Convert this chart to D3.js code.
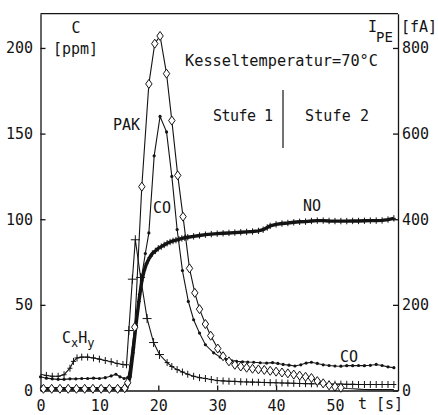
<!DOCTYPE html>
<html>
<head>
<meta charset="utf-8">
<script src="https://cdn.jsdelivr.net/npm/d3@7"></script>
<style>
  body { margin: 0; background: #fff; }
  svg { display: block; }
  text { font-family: "DejaVu Sans Mono", monospace; fill: #141414; }
</style>
</head>
<body>
<svg id="chart" width="438" height="415"></svg>
<script>
// Time axis ticks [s] and concentration / current ticks
const xTicks = [0, 10, 20, 30, 40, 50];
const yTicksLeft = [0, 50, 100, 150, 200];     // C [ppm]
const yTicksRight = [0, 200, 400, 600, 800];   // I_PE [fA]

// PAK (photoelectric current, drawn on the same grid as ppm/4)
const pakT = [0, 0.5, 1.9, 3.3, 4.7, 6.1, 7.5, 8.9, 10.3, 11.7, 13.1, 14.3, 14.8, 16.0, 17.2, 18.4, 19.4, 20.3,
  21.4, 22.3, 23.3, 24.2, 25.3, 26.2, 27.0, 28.0, 28.9, 30.1, 31.0, 32.0, 33.0, 34.0, 35.0, 36.0, 37.0, 38.0,
  39.0, 40.0, 41.0, 42.0, 43.0, 44.0, 45.0, 46.0, 47.0, 48.0, 49.0, 50.0, 51.0, 52.0, 53.0, 54.0, 55.0, 56.0,
  57.0, 58.0, 59.0, 60.0];
const pakV = [1, 1, 1, 1, 1, 1, 1, 1, 1, 1, 1, 1.3, 4.5, 37, 119, 179, 202.5, 207,
  185, 157.6, 125.6, 101.5, 71.3, 57, 47.5, 38.8, 32, 24.5, 20, 17, 15, 14, 13.3, 12.7, 12.3, 12,
  11.5, 11, 10.5, 10, 9.3, 8.7, 8, 7.3, 5.5, 4.2, 3, 2.2, 1.6, 1.2, 1, 0.8, 0.6, 0.5,
  0.5, 0.5, 0.5, 0.5];

// CO [ppm]
const coT = [0, 1, 2, 3, 4, 5, 6, 7, 8, 9, 10, 11, 12, 12.8, 13.5, 14.2, 14.8, 15.3, 15.8, 16.3, 16.8, 17.2,
  17.8, 18.4, 19.3, 20.3, 21.4, 22.3, 23.2, 24.1, 25.1, 26.0, 27.0, 28.0, 29.4, 30.5, 31.6, 32.5, 33.3, 34.3,
  35.2, 36.2, 37.3, 38.4, 39.4, 40.3, 41.2, 42.2, 43.2, 44.2, 45.1, 46.0, 47.0, 48.0, 49.0, 50.0, 51.0, 52.0,
  53.0, 54.0, 55.0, 56.0, 57.0, 58.0, 59.0, 60.0];
const coV = [8, 7.2, 6.8, 6.5, 6.5, 6.8, 6.8, 7, 7, 7.2, 7, 7.5, 8.5, 9.5, 8, 7, 7.5, 14, 25, 40, 56, 67,
  80, 92, 137, 160, 151, 125, 94, 70, 52, 41.3, 33.5, 26.7, 22, 19.5, 18, 17.3, 17, 16.8,
  16.6, 16.5, 16.2, 16, 16.3, 15.8, 15.2, 14.8, 14.3, 15, 16, 16.5, 15.8, 15, 14.6, 14.3, 14.2, 14.5,
  14.5, 14.6, 14.5, 14.7, 15.2, 14.6, 13.8, 13.3];

// CxHy [ppm]
const hcT = [0, 1, 2, 3, 4, 5, 5.6, 6.2, 7, 8, 9, 10, 11, 12, 13, 14, 14.6, 15.0, 15.6, 16.1, 17.0, 18.1,
  19.2, 20.2, 21.5, 22.3, 23.2, 24.1, 25, 26, 27, 28, 29, 30, 31, 32, 33, 34, 35, 36, 37, 38, 39, 40,
  41, 42, 43, 44, 45, 46, 47, 48, 49, 50, 51, 52, 53, 54, 55, 56, 57, 58, 59, 60];
const hcV = [9.5, 8.8, 8.3, 8.3, 9.2, 13, 17, 19, 19.5, 19.5, 19, 18.3, 17.5, 16.8, 15.8, 15.2, 15, 35, 65, 88, 66, 42,
  28, 21, 16.3, 14, 12.2, 10.8, 9.5, 8.3, 7.5, 7, 6.4, 5.8, 5.6, 5.4, 5.3, 5.1, 5, 4.9, 4.8, 4.7, 4.6, 4.5,
  4.4, 4.3, 4.2, 4.1, 4, 3.9, 3.9, 3.8, 3.8, 3.7, 3.7, 3.6, 3.6, 3.5, 3.5, 3.5, 3.5, 3.5, 3.5, 3.5];

// NO [ppm]
const noT = [0, 14.6, 15.2, 15.7, 16.2, 16.7, 17.2, 17.6, 18, 18.5, 19, 19.5, 20, 20.5, 21, 21.5, 22, 22.5, 23,
  23.5, 24, 24.5, 25, 26, 27, 28, 29, 30, 31, 32, 33, 34, 35, 36, 37, 37.8, 38.5, 39, 40, 41, 42, 43, 44,
  45, 46, 47, 48, 49, 50, 51, 52, 53, 54, 55, 56, 57, 58, 59, 60];
const noV = [1, 1, 8, 22, 38, 52, 64, 70, 74, 77.5, 80, 81.5, 83, 84, 85, 86, 86.7, 87.3, 87.8,
  88.3, 88.8, 89.2, 89.5, 90, 90.5, 91, 91.3, 91.6, 91.8, 92, 92.2, 92.4, 92.6, 92.8, 93.2, 93.9, 95.2, 96.1, 97, 97.5, 97.8, 98.2, 98.5,
  98.6, 99, 99.2, 99.2, 99, 98.9, 98.9, 98.9, 99, 99, 99.1, 99.2, 99.2, 99.3, 99.8, 100.5];

const svg = d3.select("#chart");
const x = d3.scaleLinear().domain([0, 60.7]).range([40.5, 398]);
const y = d3.scaleLinear().domain([0, 220]).range([390.5, 13.7]);
const yR = d3.scaleLinear().domain([0, 880]).range([390.5, 13.7]);

const ink = "#141414";

// axes with inward ticks
const gL = svg.append("g").attr("transform", `translate(${x(0)},0)`)
  .call(d3.axisLeft(y).tickValues(yTicksLeft).tickSizeInner(-5).tickSizeOuter(0).tickPadding(7.5));
const gR = svg.append("g").attr("transform", `translate(${x.range()[1]},0)`)
  .call(d3.axisRight(yR).tickValues(yTicksRight).tickSizeInner(-5).tickSizeOuter(0).tickPadding(4));
const gB = svg.append("g").attr("transform", `translate(0,${y(0)})`)
  .call(d3.axisBottom(x).tickValues(xTicks).tickSizeInner(-5).tickSizeOuter(0).tickPadding(9.5));
[gL, gR, gB].forEach(g => {
  g.selectAll("path, line").attr("stroke", ink).attr("stroke-width", 1.3);
  g.selectAll("text").attr("font-family", "DejaVu Sans Mono, monospace").attr("font-size", 15).attr("fill", ink);
});
// top edge of the frame
svg.append("line").attr("x1", x(0)).attr("x2", x.range()[1]).attr("y1", y.range()[1]).attr("y2", y.range()[1])
  .attr("stroke", ink).attr("stroke-width", 1.3);

function series(tArr, vArr) { return tArr.map((t, i) => [t, vArr[i]]); }
const line = d3.line().x(d => x(d[0])).y(d => y(d[1]));

const pak = series(pakT, pakV), co = series(coT, coV), hc = series(hcT, hcV), no = series(noT, noV);

const plot = svg.append("g");
// NO: dense thick trace with tick marks
plot.append("path").attr("d", line(no)).attr("fill", "none").attr("stroke", ink).attr("stroke-width", 3.4);
plot.selectAll(".noMark").data(no.filter(d => d[0] >= 15)).join("path")
  .attr("transform", d => `translate(${x(d[0])},${y(d[1])})`)
  .attr("d", "M0,-3.2V3.2M-2,0H2").attr("stroke", ink).attr("stroke-width", 1);

[pak, co, hc].forEach(s => plot.append("path").attr("d", line(s)).attr("fill", "none")
  .attr("stroke", ink).attr("stroke-width", 1.1));

// CxHy crosses
plot.selectAll(".hcMark").data(hc.filter(d => d[0] > 0)).join("path")
  .attr("transform", d => `translate(${x(d[0])},${y(d[1])})`)
  .attr("d", d => d[1] > 20 ? "M-4.5,0H4.5M0,-4.5V4.5" : "M-2.5,0H2.5M0,-3.5V3.5")
  .attr("stroke", ink).attr("stroke-width", 1);

// CO dots
plot.selectAll(".coMark").data(co).join("circle")
  .attr("cx", d => x(d[0])).attr("cy", d => y(d[1])).attr("r", 1.6).attr("fill", ink);

// PAK diamonds
plot.selectAll(".pakMark").data(pak.filter(d => d[0] > 0 && d[0] < 52)).join("path")
  .attr("transform", d => `translate(${x(d[0])},${y(d[1])})`)
  .attr("d", "M0,-4.5L3.2,0L0,4.5L-3.2,0Z").attr("fill", "#fff").attr("stroke", ink).attr("stroke-width", 1);

// labels
const txt = (s, px, py, opts = {}) => svg.append("text").attr("x", px).attr("y", py)
  .attr("font-size", opts.size || 15).attr("text-anchor", opts.anchor || "start").text(s);

txt("C", 76, 33, { anchor: "middle" });
txt("[ppm]", 53, 54);
txt("I", 368, 32);
txt("PE", 376, 42, { size: 14 });
txt("[fA]", 401, 32);
txt("t [s]", 358, 409);
txt("Kesseltemperatur=70°C", 185, 66).attr("textLength", 193).attr("lengthAdjust", "spacingAndGlyphs");
txt("Stufe 1", 213, 121).attr("textLength", 60);
txt("Stufe 2", 305, 121).attr("textLength", 64);
svg.append("line").attr("x1", 283).attr("x2", 283).attr("y1", 90).attr("y2", 148)
  .attr("stroke", ink).attr("stroke-width", 1.2);
txt("PAK", 113, 130);
txt("CO", 153, 213);
txt("NO", 303, 211);
txt("CO", 340, 362);
const cxhy = svg.append("text").attr("x", 62).attr("y", 343).attr("font-size", 15);
cxhy.append("tspan").text("C");
cxhy.append("tspan").attr("dy", 4).attr("font-size", 12).text("x");
cxhy.append("tspan").attr("dy", -4).text("H");
cxhy.append("tspan").attr("dy", 4).attr("font-size", 12).text("y");
</script>
</body>
</html>
